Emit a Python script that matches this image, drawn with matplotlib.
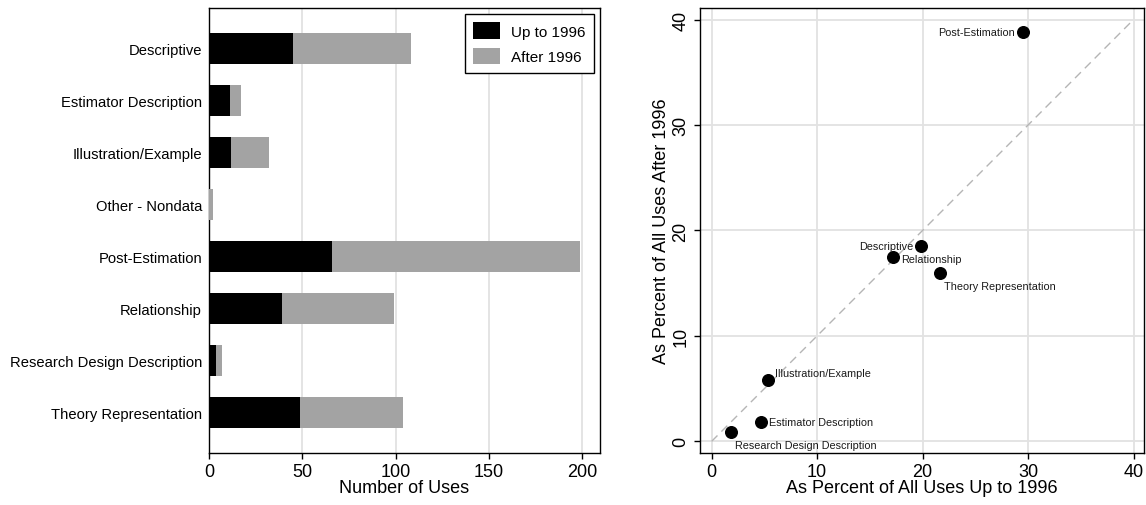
import numpy as np
import matplotlib.pyplot as plt
from matplotlib.patches import Patch

plt.rcParams['font.family'] = ['Liberation Sans', 'DejaVu Sans']

# uses of graphs by category, counts
categories = ['Descriptive', 'Estimator Description', 'Illustration/Example', 'Other - Nondata',
              'Post-Estimation', 'Relationship', 'Research Design Description', 'Theory Representation']
up_to_1996 = [45, 11, 12, 0, 66, 39, 4, 49]
after_1996 = [63, 6, 20, 2, 133, 60, 3, 55]

# scatter: percent of all uses in each period (Other - Nondata not plotted)
pct_labels = ['Descriptive', 'Estimator Description', 'Illustration/Example', 'Post-Estimation',
              'Relationship', 'Research Design Description', 'Theory Representation']
pct_up = [19.9, 4.7, 5.35, 29.5, 17.2, 1.8, 21.65]
pct_after = [18.5, 1.85, 5.85, 38.8, 17.45, 0.88, 16.0]
# label offsets (points), Stata-ish clock positions
lab_pos = {'Descriptive': (-5.5, 0, 'right', 'center'),
           'Estimator Description': (5.5, 0, 'left', 'center'),
           'Illustration/Example': (5, 5, 'left', 'center'),
           'Post-Estimation': (-6, 0, 'right', 'center'),
           'Relationship': (5.5, -1, 'left', 'center'),
           'Research Design Description': (3, -9.5, 'left', 'center'),
           'Theory Representation': (3, -9.5, 'left', 'center')}

grey = '#a3a3a3'
gridc = '#e2e2e2'

fig = plt.figure(figsize=(11.46, 5.06), dpi=100)
ax1 = fig.add_axes([0.1824, 0.1028, 0.3412, 0.8794])
ax2 = fig.add_axes([0.6108, 0.1028, 0.3875, 0.8794])

# ---- left: stacked horizontal bars
ypos = np.arange(len(categories))
ax1.barh(ypos, up_to_1996, height=0.6, color='black', zorder=3)
ax1.barh(ypos, after_1996, left=up_to_1996, height=0.6, color=grey, zorder=3)
ax1.set_ylim(len(categories) - 1 + 0.78, -0.78)
ax1.set_xlim(0, 209.5)
ax1.set_yticks(ypos)
ax1.set_yticklabels(categories, fontsize=10.6)
ax1.tick_params(axis='y', length=0, pad=5)
ax1.set_xticks([0, 50, 100, 150, 200])
ax1.tick_params(axis='x', labelsize=13, length=4.5, width=1, pad=3)
ax1.set_xlabel('Number of Uses', fontsize=13, labelpad=-1)
for v in [50, 100, 150, 200]:
    ax1.axvline(v, color=gridc, lw=1.3, zorder=1)
handles = [Patch(facecolor='black', edgecolor='none', label='Up to 1996'),
           Patch(facecolor=grey, edgecolor='none', label='After 1996')]
leg = ax1.legend(handles=handles, loc='upper right', fontsize=11, fancybox=False,
                 edgecolor='black', framealpha=1, handlelength=1.75, handleheight=1.25,
                 borderpad=0.55, labelspacing=0.62, handletextpad=0.75,
                 borderaxespad=0, bbox_to_anchor=(0.985, 0.9865))
leg.get_frame().set_linewidth(1.0)

# ---- right: percent scatter
for v in [0, 10, 20, 30, 40]:
    ax2.axvline(v, color=gridc, lw=1.3, zorder=1)
    ax2.axhline(v, color=gridc, lw=1.3, zorder=1)
ax2.plot([0, 40], [0, 40], color='#b5b5b5', lw=1, ls=(0, (6, 4)), zorder=2)
ax2.scatter(pct_up, pct_after, s=70, color='black', zorder=3)
for name, x, y in zip(pct_labels, pct_up, pct_after):
    dx, dy, ha, va = lab_pos[name]
    ax2.annotate(name, (x, y), xytext=(dx, dy), textcoords='offset points',
                 ha=ha, va=va, fontsize=7.8, color='#1a1a1a', zorder=4)
ax2.set_xlim(-1.1, 41.0)
ax2.set_ylim(-1.1, 41.1)
ax2.set_xticks([0, 10, 20, 30, 40])
ax2.set_yticks([0, 10, 20, 30, 40])
ax2.tick_params(labelsize=13, length=4.5, width=1, pad=3)
plt.setp(ax2.get_yticklabels(), rotation=90, va='center')
ax2.set_xlabel('As Percent of All Uses Up to 1996', fontsize=13, labelpad=-1)
ax2.set_ylabel('As Percent of All Uses After 1996', fontsize=13, labelpad=2)

for ax in (ax1, ax2):
    for s in ax.spines.values():
        s.set_linewidth(1.0)

fig.savefig('out.png', dpi=100)
